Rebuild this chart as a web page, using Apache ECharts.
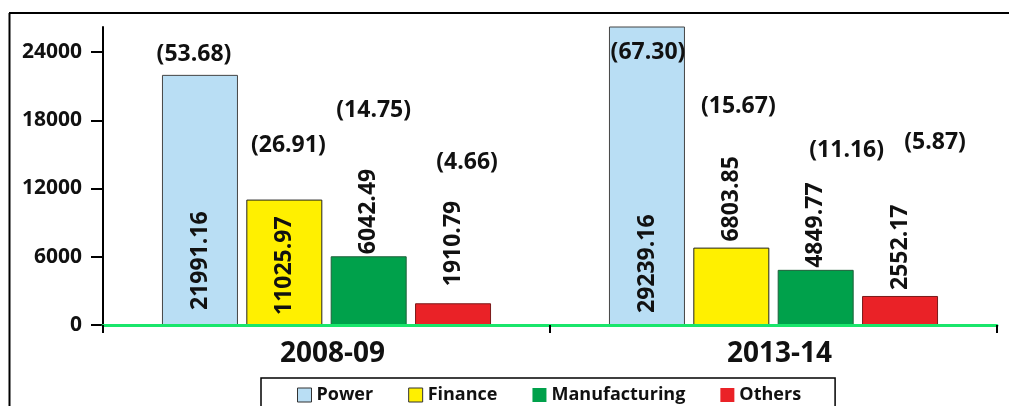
<!DOCTYPE html>
<html>
<head>
<meta charset="utf-8">
<script src="https://cdn.jsdelivr.net/npm/echarts@6/dist/echarts.min.js"></script>
<style>
html,body{margin:0;padding:0;background:#fff;}
#c{width:1009px;height:406px;}
</style>
</head>
<body>
<div id="c"></div>
<script>
// ---- data ----
const categories = ['2008-09', '2013-14'];
const seriesNames = ['Power', 'Finance', 'Manufacturing', 'Others'];
const powerValues = [21991.16, 29239.16];
const financeValues = [11025.97, 6803.85];
const manufacturingValues = [6042.49, 4849.77];
const othersValues = [1910.79, 2552.17];
const powerShare = [53.68, 67.30];
const financeShare = [26.91, 15.67];
const manufacturingShare = [14.75, 11.16];
const othersShare = [4.66, 5.87];
const yTicks = [0, 6000, 12000, 18000, 24000];

// ---- layout / style (not data) ----
const yMax = 26200;
const colors = ['#b9def4', '#fff000', '#00a14b', '#ea2227'];
const borders = ['#444', '#222', '#1f5f3a', '#7a1a1a'];
const valuePos = [['insideBottom', 'insideBottom'], ['insideBottom', 'top'], ['top', 'top'], ['top', 'top']];
const valueDist = [[15, 12], [10, 6], [2, 2], [17, 6]];
// percent label offsets: [dx, dy above bar top]
const pctOffset = [
  [[-6, 20], [1, -25]],
  [[4, 54], [7, 141]],
  [[5, 146], [31, 119]],
  [[14, 141], [35, 154]]
];

const values = [powerValues, financeValues, manufacturingValues, othersValues];
const shares = [powerShare, financeShare, manufacturingShare, othersShare];
const FONT = '"Open Sans", "DejaVu Sans", sans-serif';
const W = 700;

const chart = echarts.init(document.getElementById('c'), null, {renderer: 'canvas'});

const series = seriesNames.map((name, s) => ({
  name: name,
  type: 'bar',
  barWidth: 76,
  barGap: '11%',
  clip: true,
  itemStyle: {color: colors[s], borderColor: borders[s], borderWidth: 1},
  label: {
    show: true,
    rotate: 90,
    align: 'left',
    verticalAlign: 'middle',
    fontFamily: FONT,
    fontWeight: W,
    fontSize: 23,
    color: '#111',
    formatter: p => p.value.toFixed(2)
  },
  data: values[s].map((v, i) => ({
    value: v,
    label: {position: valuePos[s][i], distance: valueDist[s][i]}
  })),
  markPoint: {
    symbol: 'circle',
    symbolSize: 1,
    itemStyle: {color: 'rgba(0,0,0,0)'},
    silent: true,
    animation: false,
    data: values[s].map((v, i) => ({
      coord: [i, Math.min(v, yMax)],
      value: shares[s][i],
      label: {
        show: true,
        position: 'inside',
        offset: [pctOffset[s][i][0], -pctOffset[s][i][1]],
        fontFamily: FONT,
        fontWeight: W,
        fontSize: 23,
        color: '#111',
        formatter: () => '(' + shares[s][i].toFixed(2) + ')'
      }
    }))
  }
}));

chart.setOption({
  backgroundColor: '#fff',
  animation: false,
  graphic: [
    {type: 'line', shape: {x1: 9, y1: 13, x2: 1009, y2: 13}, style: {stroke: '#000', lineWidth: 2}, z: 100},
    {type: 'line', shape: {x1: 9.5, y1: 13, x2: 9.5, y2: 406}, style: {stroke: '#000', lineWidth: 2}, z: 100}
  ],
  grid: {left: 103, right: 12, top: 27, bottom: 81, containLabel: false},
  legend: {
    left: 261,
    top: 378,
    padding: [8, 34, 10, 36],
    borderColor: '#000',
    borderWidth: 1.5,
    itemWidth: 14,
    itemHeight: 14,
    itemGap: 35,
    textStyle: {fontFamily: FONT, fontWeight: W, fontSize: 18, color: '#111'},
    data: [
      {name: 'Power', icon: 'rect', itemStyle: {borderColor: '#333', borderWidth: 1}},
      {name: 'Finance', icon: 'rect', itemStyle: {borderColor: '#333', borderWidth: 1}},
      {name: 'Manufacturing', icon: 'rect', itemStyle: {borderWidth: 0}},
      {name: 'Others', icon: 'rect', itemStyle: {borderWidth: 0}}
    ]
  },
  xAxis: {
    type: 'category',
    data: categories,
    axisLine: {lineStyle: {color: '#19e66b', width: 3}},
    axisTick: {show: true, length: 8, lineStyle: {color: '#000', width: 2}},
    axisLabel: {
      fontFamily: FONT, fontWeight: W, fontSize: 28, color: '#111',
      margin: 15, padding: [0, 0, 0, 12]
    },
    z: 5
  },
  yAxis: {
    type: 'value',
    min: 0,
    max: yMax,
    interval: 6000,
    splitLine: {show: false},
    axisLine: {show: true, lineStyle: {color: '#000', width: 2}},
    axisTick: {show: true, length: 12, lineStyle: {color: '#000', width: 2}, customValues: yTicks},
    axisLabel: {
      fontFamily: FONT, fontWeight: W, fontSize: 21, color: '#111',
      margin: 21, customValues: yTicks, formatter: v => String(v)
    }
  },
  series: series
});
</script>
</body>
</html>
